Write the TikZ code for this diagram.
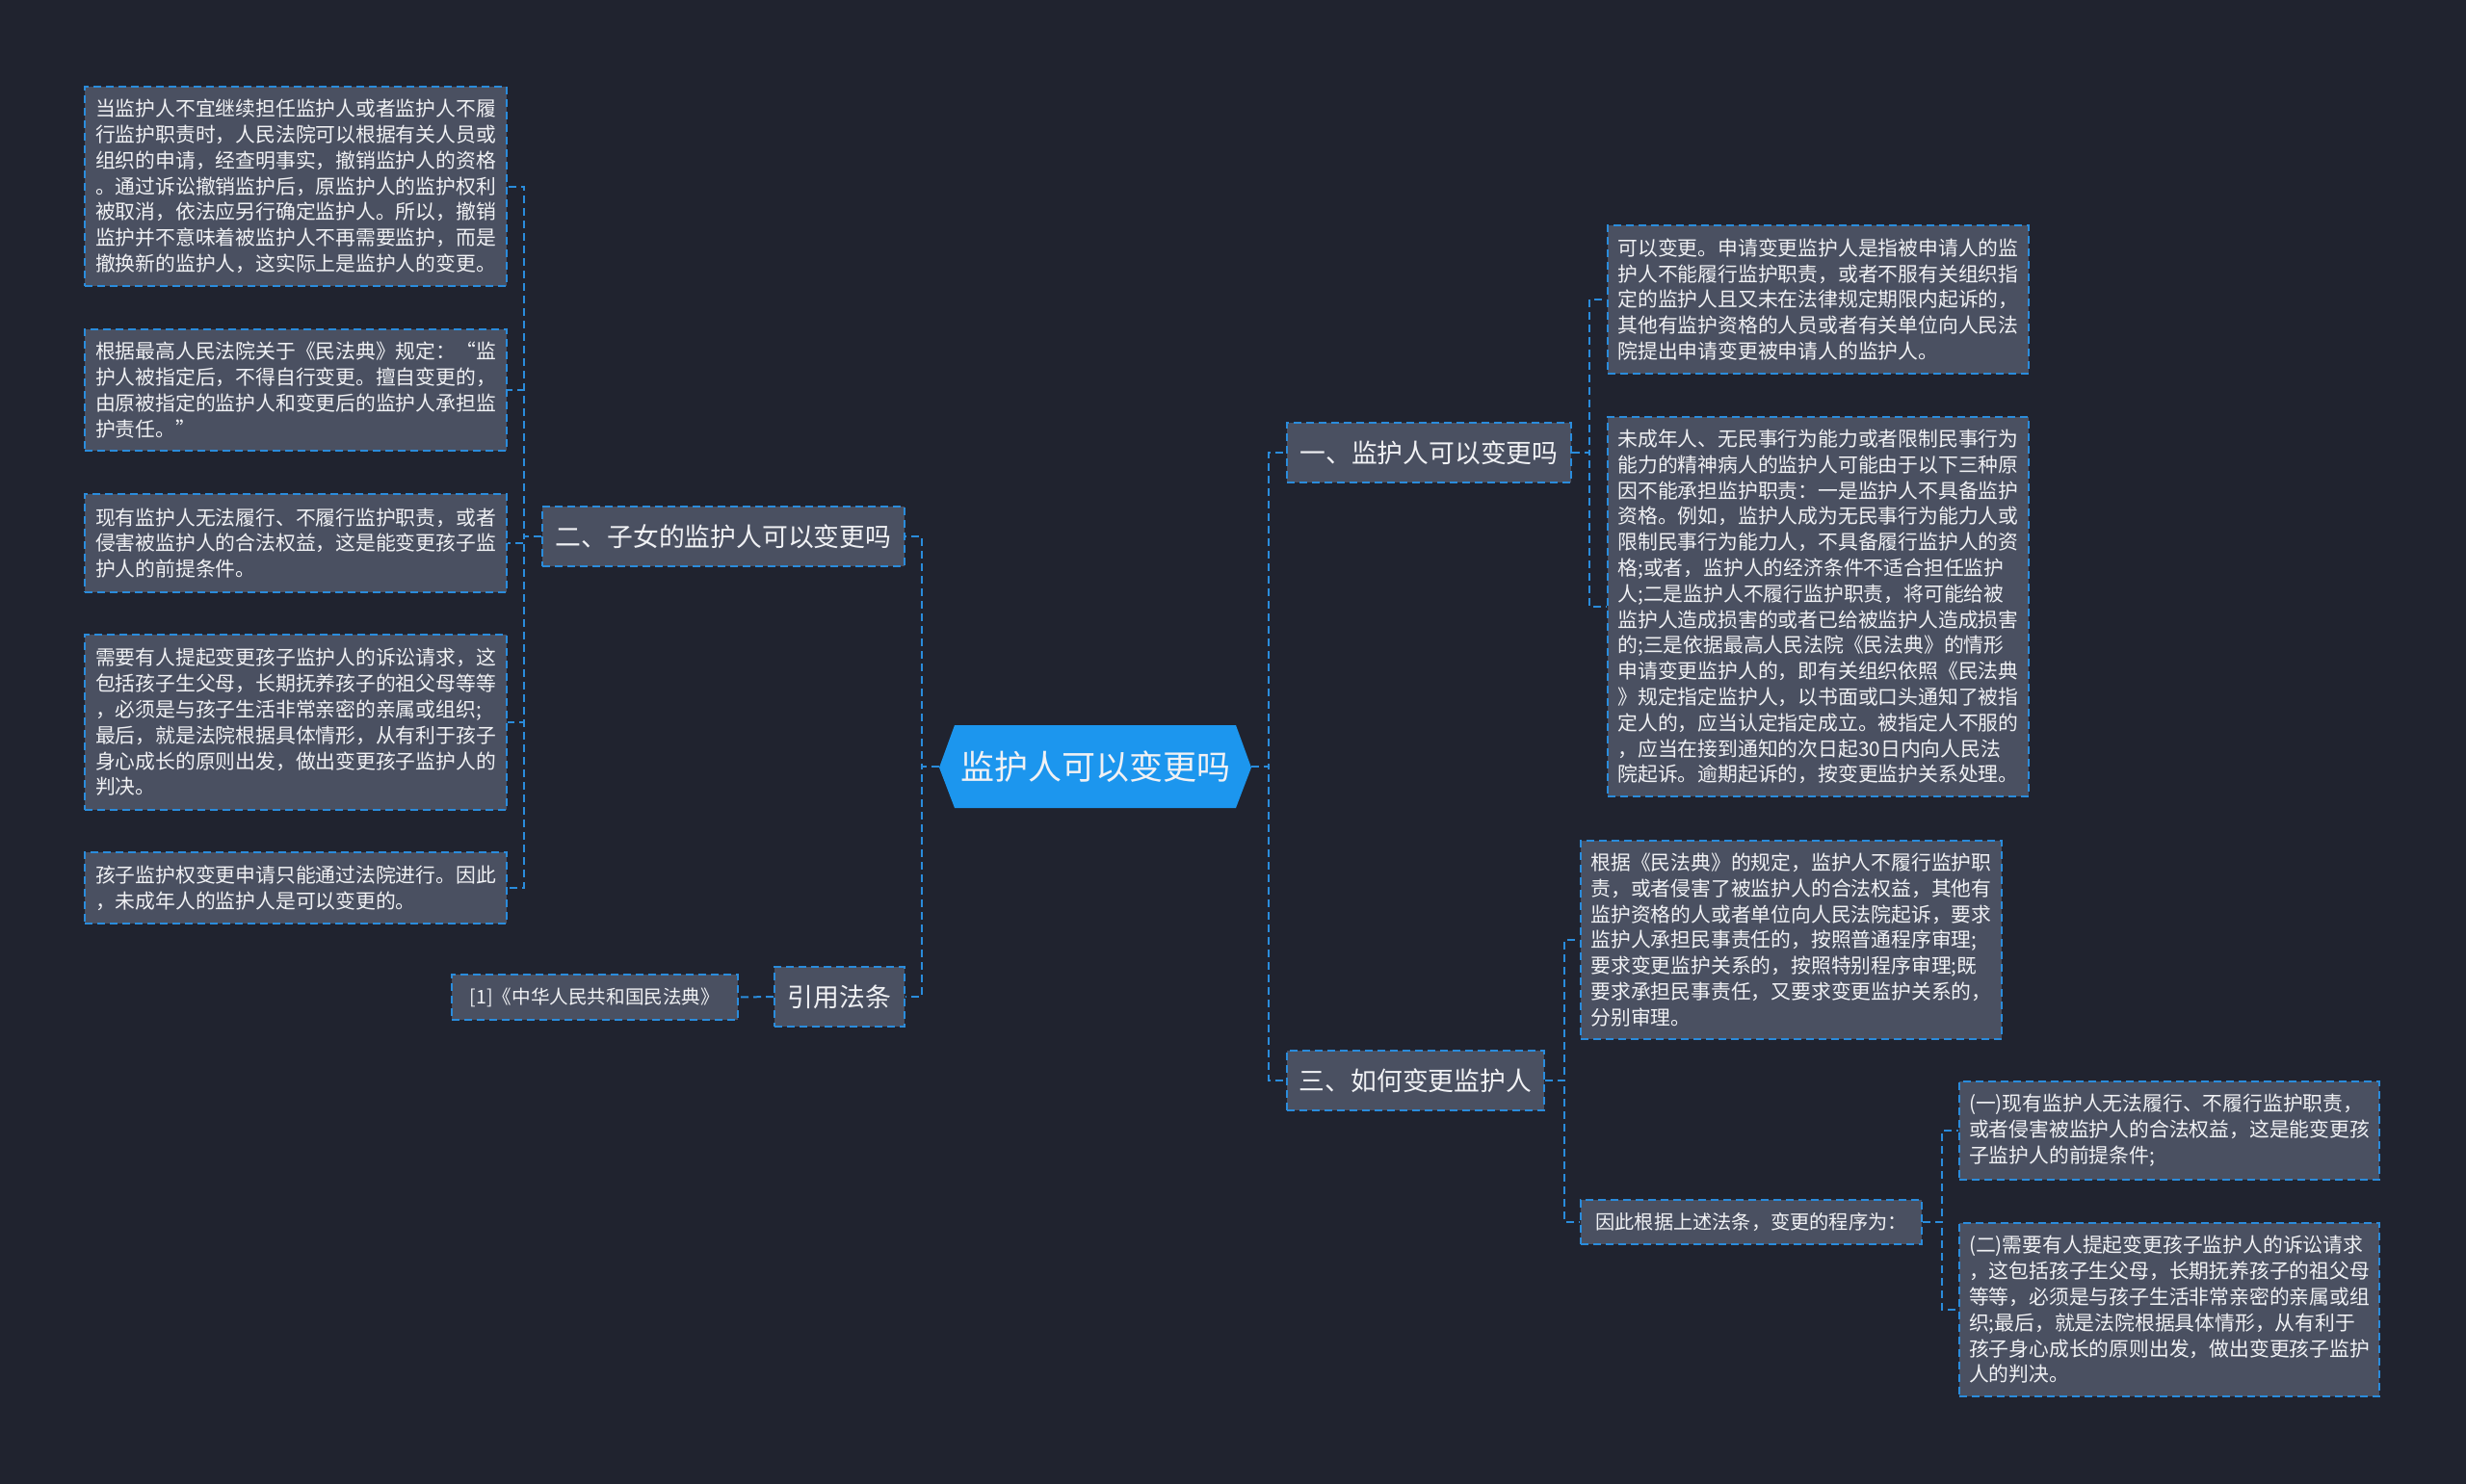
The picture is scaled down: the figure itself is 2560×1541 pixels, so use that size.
\documentclass[tikz,border=0pt]{standalone}
\usepackage{fontspec}
\setmainfont{Noto Sans CJK SC}
\usetikzlibrary{calc}
\definecolor{bg}{RGB}{32,35,47}
\definecolor{boxgrey}{RGB}{74,80,97}
\definecolor{lineblue}{RGB}{42,140,220}
\definecolor{cfill}{RGB}{28,150,238}
\definecolor{txt}{RGB}{240,241,244}
\tikzset{
  box/.style={draw=lineblue, dash pattern=on 4pt off 2.5pt, line width=1pt, fill=boxgrey, text=txt, inner sep=0pt, align=left},
  conn/.style={draw=lineblue, dash pattern=on 4pt off 2.5pt, line width=1pt},
  leafL/.style={box, font=\fontsize{10.4pt}{13.4pt}\selectfont, minimum width=219pt},
  leafR/.style={box, font=\fontsize{10.4pt}{13.4pt}\selectfont, minimum width=218.5pt},
  topic/.style={box, font=\fontsize{13.4pt}{16pt}\selectfont, minimum height=31pt},
  small/.style={box, font=\fontsize{10.1pt}{12pt}\selectfont},
}
\begin{document}
\begin{tikzpicture}[x=0.5pt,y=-0.5pt]
\useasboundingbox (0,0) rectangle (2560,1541);
\fill[bg] (0,0) rectangle (2560,1541);

% centre
\fill[cfill] (975,797) -- (991,753) -- (1283,753) -- (1299,797) -- (1283,839) -- (991,839) -- cycle;
\node[text=txt, inner sep=0pt, minimum width=162pt, minimum height=43pt, font=\fontsize{17.5pt}{20pt}\selectfont] (c) at (1137,796) {监护人可以变更吗};

% left side
\node[topic, minimum width=188pt] (n2) at (751,557) {二、子女的监护人可以变更吗};
\node[topic, minimum width=67.5pt] (n4) at (871.5,1035) {引用法条};
\node[small, minimum width=148.5pt, minimum height=23.5pt, font=\fontsize{9.8pt}{12pt}\selectfont] (ref) at (617.5,1035.5) {[1]《中华人民共和国民法典》};

\node[leafL, minimum height=103.5pt] (L1) at (307,193.5) {当监护人不宜继续担任监护人或者监护人不履\\行监护职责时，人民法院可以根据有关人员或\\组织的申请，经查明事实，撤销监护人的资格\\。通过诉讼撤销监护后，原监护人的监护权利\\被取消，依法应另行确定监护人。所以，撤销\\监护并不意味着被监护人不再需要监护，而是\\撤换新的监护人，这实际上是监护人的变更。};
\node[leafL, minimum height=63pt] (L2) at (307,405) {根据最高人民法院关于《民法典》规定：“监\\护人被指定后，不得自行变更。擅自变更的，\\由原被指定的监护人和变更后的监护人承担监\\护责任。”};
\node[leafL, minimum height=51pt] (L3) at (307,564) {现有监护人无法履行、不履行监护职责，或者\\侵害被监护人的合法权益，这是能变更孩子监\\护人的前提条件。};
\node[leafL, minimum height=91pt] (L4) at (307,750) {需要有人提起变更孩子监护人的诉讼请求，这\\包括孩子生父母，长期抚养孩子的祖父母等等\\，必须是与孩子生活非常亲密的亲属或组织;\\最后，就是法院根据具体情形，从有利于孩子\\身心成长的原则出发，做出变更孩子监护人的\\判决。};
\node[leafL, minimum height=37pt] (L5) at (307,922) {孩子监护权变更申请只能通过法院进行。因此\\，未成年人的监护人是可以变更的。};

% right side
\node[topic, minimum width=147.5pt] (n1) at (1483.5,470) {一、监护人可以变更吗};
\node[topic, minimum width=133.5pt] (n3) at (1469.5,1122) {三、如何变更监护人};

\node[leafR, minimum height=77pt] (R1) at (1887.5,311) {可以变更。申请变更监护人是指被申请人的监\\护人不能履行监护职责，或者不服有关组织指\\定的监护人且又未在法律规定期限内起诉的，\\其他有监护资格的人员或者有关单位向人民法\\院提出申请变更被申请人的监护人。};
\node[leafR, minimum height=197pt] (R2) at (1887.5,630) {未成年人、无民事行为能力或者限制民事行为\\能力的精神病人的监护人可能由于以下三种原\\因不能承担监护职责：一是监护人不具备监护\\资格。例如，监护人成为无民事行为能力人或\\限制民事行为能力人，不具备履行监护人的资\\格;或者，监护人的经济条件不适合担任监护\\人;二是监护人不履行监护职责，将可能给被\\监护人造成损害的或者已给被监护人造成损害\\的;三是依据最高人民法院《民法典》的情形\\申请变更监护人的，即有关组织依照《民法典\\》规定指定监护人，以书面或口头通知了被指\\定人的，应当认定指定成立。被指定人不服的\\，应当在接到通知的次日起30日内向人民法\\院起诉。逾期起诉的，按变更监护关系处理。};
\node[leafR, minimum height=103pt] (R3) at (1859.5,976) {根据《民法典》的规定，监护人不履行监护职\\责，或者侵害了被监护人的合法权益，其他有\\监护资格的人或者单位向人民法院起诉，要求\\监护人承担民事责任的，按照普通程序审理;\\要求变更监护关系的，按照特别程序审理;既\\要求承担民事责任，又要求变更监护关系的，\\分别审理。};
\node[small, minimum width=177pt, minimum height=23pt] (n5) at (1818,1269) {因此根据上述法条，变更的程序为：};
\node[leafR, minimum width=218pt, minimum height=51pt] (R4) at (2252,1174) {(一)现有监护人无法履行、不履行监护职责，\\或者侵害被监护人的合法权益，这是能变更孩\\子监护人的前提条件;};
\node[leafR, minimum width=218pt, minimum height=90pt] (R5) at (2252,1360) {(二)需要有人提起变更孩子监护人的诉讼请求\\，这包括孩子生父母，长期抚养孩子的祖父母\\等等，必须是与孩子生活非常亲密的亲属或组\\织;最后，就是法院根据具体情形，从有利于\\孩子身心成长的原则出发，做出变更孩子监护\\人的判决。};

% connectors
\foreach \ch in {n2,n4} \draw[conn] (c.west) -- ++(-18,0) |- (\ch.east);
\foreach \ch in {n1,n3} \draw[conn] (c.east) -- ++(18,0) |- (\ch.west);
\foreach \ch in {L1,L2,L3,L4,L5} \draw[conn] (n2.west) -- ++(-18,0) |- (\ch.east);
\draw[conn] (n4.west) -- (ref.east);
\foreach \ch in {R1,R2} \draw[conn] (n1.east) -- ++(18,0) |- (\ch.west);
\foreach \ch in {R3,n5} \draw[conn] (n3.east) -- ++(20,0) |- (\ch.west);
\foreach \ch in {R4,R5} \draw[conn] (n5.east) -- ++(20,0) |- (\ch.west);
\end{tikzpicture}
\end{document}
